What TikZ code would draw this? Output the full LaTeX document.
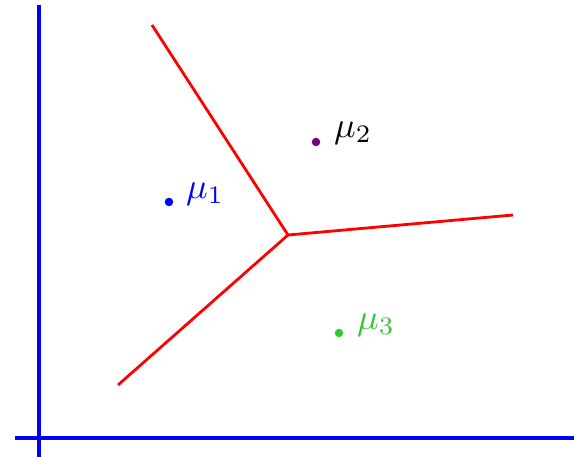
\documentclass[tikz,border=0pt]{standalone}
\usepackage{amsmath,amssymb}
\usepackage{graphicx}
\usepackage{xcolor}
\usepackage{tikz}
\usetikzlibrary{positioning}
\definecolor{meangreen}{RGB}{50,200,50}
\definecolor{meanpurple}{RGB}{120,0,120}
\newcommand{\meanlbl}[1]{\scalebox{3.6}{$\mu_{#1}$}}
\begin{document}
\begin{tikzpicture}[x=1pt,y=-1pt,
  axis/.style={draw=blue,line width=4.5pt},
  border/.style={draw=red,line width=2.8pt},
  mean/.style={circle,fill=#1,inner sep=0pt,minimum size=8.5pt},
  lbl/.style={text=#1,inner sep=0pt,anchor=center}]
\useasboundingbox (0,0) rectangle (574,457);
% axes
\coordinate (ytop) at (39,5);
\coordinate (ybot) at (39,457);
\coordinate (xlft) at (15,438);
\coordinate (xrgt) at (574,438);
\draw[axis] (ytop) -- (ybot);
\draw[axis] (xlft) -- (xrgt);
% decision borders
\coordinate (c) at (288,235);
\coordinate (b12) at (152,25);
\coordinate (b23) at (513,215);
\coordinate (b13) at (118,385);
\draw[border] (b12) -- (c) -- (b23);
\draw[border] (c) -- (b13);
% cluster means
\node[mean=blue] (m1) at (169,202) {};
\node[mean=meanpurple] (m2) at (316,142) {};
\node[mean=meangreen] (m3) at (339,333) {};
\node[lbl=blue] (l1) at (205,194) {\meanlbl{1}};
\node[lbl=black] (l2) at (353,133) {\meanlbl{2}};
\node[lbl=meangreen] (l3) at (376,325) {\meanlbl{3}};
\end{tikzpicture}
\end{document}
